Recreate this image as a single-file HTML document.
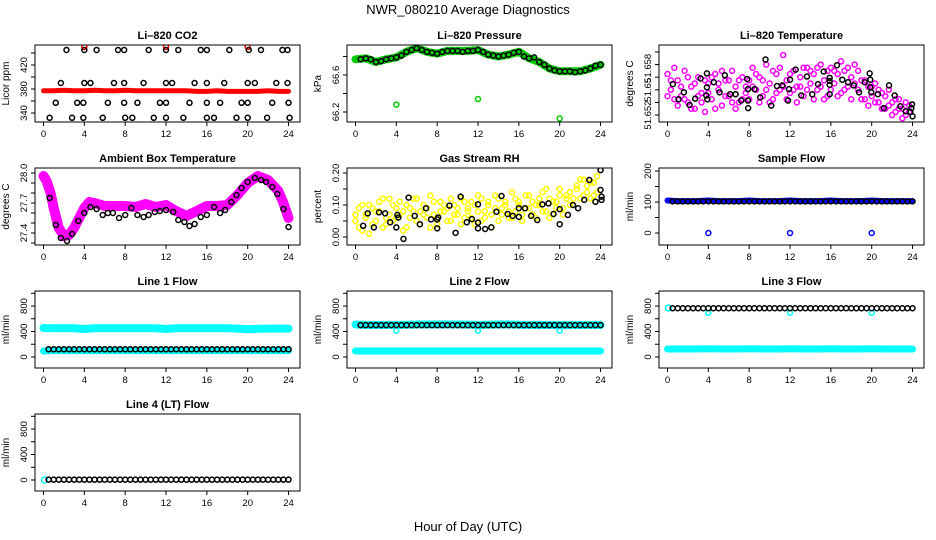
<!DOCTYPE html>
<html><head><meta charset="utf-8"><title>NWR_080210 Average Diagnostics</title>
<style>
html,body{margin:0;padding:0;background:#fff;}
svg{display:block;font-family:"Liberation Sans",Arial,sans-serif;}
.ttl{font-size:11px;font-weight:bold;text-anchor:middle;}
.tk{font-size:9.5px;text-anchor:middle;}
</style></head>
<body>
<svg id="chart" width="936" height="540" viewBox="0 0 936 540" xmlns="http://www.w3.org/2000/svg">
<rect width="936" height="540" fill="#fff"/>
<text x="468" y="14" font-size="13" text-anchor="middle">NWR_080210  Average Diagnostics</text>
<text x="468" y="531" font-size="13" text-anchor="middle">Hour of Day (UTC)</text>
</svg>
<script>
// ---------- shared categories ----------
const halfHours = [0.5,1,1.5,2,2.5,3,3.5,4,4.5,5,5.5,6,6.5,7,7.5,8,8.5,9,9.5,10,10.5,11,11.5,12,12.5,13,13.5,14,14.5,15,15.5,16,16.5,17,17.5,18,18.5,19,19.5,20,20.5,21,21.5,22,22.5,23,23.5,24];
const wholeHours = [0,1,2,3,4,5,6,7,8,9,10,11,12,13,14,15,16,17,18,19,20,21,22,23,24];
const grid72 = [0,0.33,0.67,1,1.33,1.67,2,2.33,2.67,3,3.33,3.67,4,4.33,4.67,5,5.33,5.67,6,6.33,6.67,7,7.33,7.67,8,8.33,8.67,9,9.33,9.67,10,10.33,10.67,11,11.33,11.67,12,12.33,12.67,13,13.33,13.67,14,14.33,14.67,15,15.33,15.67,16,16.33,16.67,17,17.33,17.67,18,18.33,18.67,19,19.33,19.67,20,20.33,20.67,21,21.33,21.67,22,22.33,22.67,23,23.33,23.67];
const xTicks = [0,4,8,12,16,20,24];
const dipHours = [4,12,20];

// ---------- Li-820 CO2 ----------
const co2BlackX = [2.25,4,5.2,7.3,7.9,10.3,12,13.2,15.4,16,18.2,20.1,21.3,23.4,23.9, 1.7,4,4.6,6.9,7.9,9.8,12,12.6,14.8,16,17.7,20,20.7,22.8,23.9, 1.2,3.3,3.9,6.3,7.9,9.2,11.4,12,14.3,16,17.3,19.4,20,22.4,24, 0.6,2.8,3.9,5.8,8,8.7,10.8,12,13.7,16,16.7,18.9,20,21.9,24.1];
const co2BlackY = [445,445,445,445,445,445,445,445,445,445,445,445,445,445,445, 390,390,390,390,390,390,390,390,390,390,390,390,390,390,390, 357,357,357,357,357,357,357,357,357,357,357,357,357,357,357, 332,332,332,332,332,332,332,332,332,332,332,332,332,332,332];
const co2RedBand = [377,377,378,377,377,378,377,377,378,377,377,377,377,377,377,376,376,377,376,376,376,376,377,376,376];
const co2RedDips = [450,450,450];
const co2Ticks = [340,360,380,400,420,440];
const co2TickLabels = ["340","","380","","420",""];

// ---------- Li-820 Pressure ----------
const presBlack = [66.77,66.78,66.77,66.74,66.75,66.77,66.78,66.79,66.81,66.85,66.87,66.89,66.87,66.85,66.84,66.83,66.85,66.86,66.86,66.86,66.85,66.86,66.86,66.87,66.85,66.82,66.81,66.80,66.81,66.82,66.84,66.85,66.80,66.78,66.79,66.74,66.71,66.67,66.65,66.64,66.64,66.64,66.63,66.64,66.65,66.67,66.70,66.71];
const presGreen = [66.77,66.78,66.74,66.77,66.79,66.85,66.89,66.85,66.83,66.86,66.86,66.86,66.87,66.82,66.80,66.82,66.85,66.78,66.74,66.67,66.64,66.64,66.64,66.67,66.71];
const presDips = [66.28,66.34,66.13];
const presTicks = [66.2,66.4,66.6,66.8];
const presTickLabels = ["66.2","","66.6",""];

// ---------- Li-820 Temperature ----------
const tempMagA = [51.6585,51.6560,51.6545,51.6575,51.6550,51.6590,51.6540,51.6565,51.6530,51.6580,51.6555,51.6525,51.6570,51.6545,51.6585,51.6560,51.6535,51.6575,51.6550,51.6590,51.6565,51.6540,51.6580,51.6555,51.6575,51.6595,51.6560,51.6580,51.6550,51.6600,51.6570,51.6545,51.6585,51.6560,51.6615,51.6575,51.6555,51.6590,51.6565,51.6580,51.6550,51.6595,51.6570,51.6585,51.6560,51.6600,51.6575,51.6550,51.6595,51.6570,51.6585,51.6555,51.6590,51.6565,51.6580,51.6600,51.6560,51.6575,51.6545,51.6565,51.6550,51.6570,51.6540,51.6555,51.6530,51.6560,51.6540,51.6525,51.6545,51.6530,51.6520,51.6535];
const tempMagB = [51.6550,51.6575,51.6595,51.6535,51.6565,51.6545,51.6580,51.6530,51.6570,51.6550,51.6540,51.6575,51.6555,51.6580,51.6530,51.6570,51.6590,51.6550,51.6575,51.6540,51.6530,51.6575,51.6545,51.6565,51.6545,51.6565,51.6585,51.6540,51.6575,51.6560,51.6540,51.6590,51.6555,51.6595,51.6565,51.6545,51.6585,51.6560,51.6540,51.6565,51.6595,51.6560,51.6590,51.6545,51.6595,51.6565,51.6545,51.6590,51.6560,51.6590,51.6550,51.6605,51.6560,51.6595,51.6545,51.6570,51.6590,51.6545,51.6575,51.6535,51.6565,51.6540,51.6560,51.6530,51.6550,51.6535,51.6520,51.6545,51.6530,51.6515,51.6540,51.6525];
const tempBlackX = [0.52,1.08,1.6,2.16,2.71,3.24,3.86,3.8,3.86,3.9,4.54,5.1,5.62,6.14,6.67,7.22,7.81,7.88,7.88,7.9,8.53,9.08,9.6,10.16,10.72,11.24,11.8,11.9,12.0,12.55,13.1,13.66,14.18,14.74,15.3,15.88,15.88,15.88,15.88,16.6,17.12,17.68,18.24,18.76,19.31,19.8,19.86,19.86,19.96,20.6,21.18,21.7,22.25,22.81,23.33,23.79,23.88,23.95,24.0];
const tempBlackY = [51.6569,51.6545,51.6556,51.6536,51.6546,51.6578,51.6586,51.6551,51.6564,51.6545,51.6572,51.6556,51.6583,51.6553,51.6553,51.6543,51.6577,51.6561,51.6543,51.6531,51.6561,51.6548,51.6608,51.6535,51.6566,51.6567,51.6543,51.6561,51.6576,51.6592,51.6551,51.6581,51.6553,51.6569,51.6589,51.6568,51.6574,51.6579,51.6553,51.6599,51.6576,51.6572,51.6567,51.6556,51.6572,51.6586,51.6576,51.6564,51.6556,51.6553,51.6531,51.6567,51.6551,51.6534,51.6526,51.6525,51.6531,51.6537,51.6518];
const tempTicks = [51.652,51.654,51.656,51.658,51.660,51.662];
const tempNoLabels = ["","","","","",""];
const tempLabelVals = [51.652,51.656,51.6594];
const tempLabelText = ["51.652","51.65","51.658"];

// ---------- Ambient Box Temperature ----------
const ambBlackX = [0.6,1.2,1.7,2.3,2.8,3.4,4.0,4.6,5.2,5.8,6.3,6.8,7.4,8.0,8.6,9.2,9.8,10.3,10.9,11.4,12,12.7,13.2,13.8,14.3,14.8,15.4,16,16.7,17.3,17.8,18.4,18.9,19.4,20,20.7,21.3,21.8,22.4,22.9,23.5,24];
const ambBlackY = [27.75,27.48,27.35,27.32,27.39,27.52,27.60,27.66,27.64,27.58,27.60,27.60,27.55,27.58,27.65,27.58,27.56,27.58,27.61,27.62,27.63,27.61,27.53,27.51,27.47,27.49,27.56,27.58,27.66,27.60,27.63,27.71,27.78,27.85,27.91,27.95,27.93,27.91,27.86,27.79,27.64,27.46];
const ambMagX = [0,0.3,0.7,1,1.5,2,2.5,3,3.5,4,4.5,5,6,7,8,9,10,11,12,13,14,15,16,17,18,19,20,21,22,23,23.5,24];
const ambMagY = [27.97,27.92,27.80,27.65,27.45,27.37,27.38,27.45,27.55,27.65,27.71,27.70,27.67,27.67,27.67,27.66,27.69,27.66,27.68,27.62,27.57,27.62,27.67,27.67,27.68,27.78,27.90,27.97,27.93,27.82,27.70,27.55];
const ambTicks = [27.3,27.4,27.5,27.6,27.7,27.8,27.9,28.0];
const ambTickLabels = ["","27.4","","","27.7","","","28.0"];

// ---------- Gas Stream RH ----------
const rhYellowA = [0.05,0.09,0.02,0.07,0.10,0.04,0.08,0.11,0.03,0.06,0.12,0.05,0.09,0.07,0.02,0.10,0.06,0.08,0.12,0.04,0.07,0.09,0.03,0.11,0.06,0.08,0.10,0.05,0.12,0.07,0.09,0.04,0.11,0.08,0.06,0.10,0.13,0.05,0.08,0.11,0.03,0.09,0.12,0.07,0.10,0.06,0.14,0.08,0.11,0.05,0.09,0.13,0.07,0.10,0.12,0.08,0.15,0.06,0.11,0.09,0.13,0.07,0.12,0.14,0.10,0.16,0.12,0.18,0.14,0.17,0.13,0.19];
const rhYellowB = [0.07,0.03,0.10,0.06,0.01,0.09,0.05,0.08,0.12,0.04,0.07,0.10,0.06,0.11,0.08,0.03,0.09,0.12,0.05,0.08,0.10,0.06,0.13,0.07,0.04,0.11,0.08,0.09,0.05,0.10,0.07,0.12,0.06,0.09,0.11,0.04,0.08,0.12,0.06,0.10,0.07,0.13,0.05,0.09,0.11,0.08,0.06,0.12,0.10,0.07,0.13,0.09,0.11,0.06,0.10,0.14,0.08,0.12,0.07,0.11,0.15,0.09,0.13,0.10,0.12,0.15,0.18,0.13,0.16,0.12,0.17,0.14];
const rhBlackX = [0.75,1.2,1.8,2.3,2.9,3.4,4.0,4.1,4.2,4.7,5.2,5.8,6.3,6.9,7.4,8.0,8.0,8.1,9.2,9.8,10.3,10.9,11.4,12.0,12.0,12.0,12.7,13.3,13.8,14.3,14.9,15.4,16.0,16.0,16.6,17.2,17.8,18.3,18.9,19.4,20.0,20.0,20.8,21.3,21.8,22.4,22.9,23.5,24.0,24.0,24.1,24.1];
const rhBlackY = [0.035,0.074,0.030,0.077,0.074,0.046,0.030,0.069,0.061,-0.006,0.123,0.066,0.040,0.090,0.055,0.055,0.027,0.061,0.098,0.013,0.126,0.046,0.056,0.102,0.045,0.027,0.025,0.030,0.079,0.128,0.072,0.066,0.063,0.090,0.090,0.066,0.053,0.102,0.105,0.072,0.040,0.087,0.069,0.100,0.090,0.116,0.178,0.110,0.209,0.147,0.126,0.116];
const rhTicks = [0,0.05,0.10,0.15,0.20];
const rhTickLabels = ["0.00","","0.10","","0.20"];

// ---------- Sample Flow ----------
const sampleBlack = [102,102,102,102,102,102,102,102,102,102,102,102,102,102,102,102,102,102,102,102,102,102,102,102,102,102,102,102,102,102,102,102,102,102,102,102,102,102,102,102,102,102,102,102,102,102,102,102];
const sampleBlue = [105,103,103,103,105,103,103,103,105,103,103,103,105,103,103,103,105,103,103,103,105,103,103,103,103];
const sampleDips = [0,0,0];
const sampleTicks = [0,50,100,150,200];
const sampleTickLabels = ["0","","100","","200"];

// ---------- Line flows ----------
const flowTicks = [0,200,400,600,800,1000];
const flowTickLabels = ["0","","400","","800",""];
const line1CyanHigh = [455,452,452,452,440,452,452,452,452,452,452,452,440,452,452,452,452,452,450,445,435,442,445,445,445];
const line1CyanLow = [94,100,100,100,100,100,100,100,100,100,100,100,100,100,100,100,100,100,100,100,100,100,100,100,100];
const line1Black = [121,121,121,121,121,121,121,121,121,121,121,121,121,121,121,121,121,121,121,121,121,121,121,121,121,121,121,121,121,121,121,121,121,121,121,121,121,121,121,121,121,121,121,121,121,121,121,121];
const line2CyanHigh = [510,502,502,502,502,505,510,510,510,510,510,508,502,505,510,510,505,502,502,502,500,500,502,502,502];
const line2CyanLow = [94,94,94,94,94,94,94,94,94,94,94,94,94,94,94,94,94,94,94,94,94,94,94,94,94];
const line2Black = [500,500,500,500,500,500,500,500,500,500,500,500,500,500,500,500,500,500,500,500,500,500,500,500,500,500,500,500,500,500,500,500,500,500,500,500,500,500,500,500,500,500,500,500,500,500,500,500];
const line2Dips = [413,413,413];
const line3CyanLow = [126,126,126,126,130,126,126,126,130,126,126,126,130,126,126,126,130,126,126,126,130,126,126,126,126];
const line3Black = [765,765,765,765,765,765,765,765,765,765,765,765,765,765,765,765,765,765,765,765,765,765,765,765,765,765,765,765,765,765,765,765,765,765,765,765,765,765,765,765,765,765,765,765,765,765,765,765];
const line3Dips = [695,695,695];
const line3CyanStart = [770];
const line4Black = [5,5,5,5,5,5,5,5,5,5,5,5,5,5,5,5,5,5,5,5,5,5,5,5,5,5,5,5,5,5,5,5,5,5,5,5,5,5,5,5,5,5,5,5,5,5,5,5];
const line4CyanStart = [0];

// ---------- drawing ----------
const NS = "http://www.w3.org/2000/svg";
const svg = document.getElementById("chart");
function mk(tag, parent, attrs) {
  const e = document.createElementNS(NS, tag);
  for (const k in attrs) e.setAttribute(k, attrs[k]);
  parent.appendChild(e);
  return e;
}
function panel(name, col, row, title, ylab, ymin, ymax, ticks, tickLabels) {
  const left = 35 + 312 * col, top = 45 + 123 * row, w = 265, h = 77;
  const g = mk("g", svg, {});
  
  
  const sx = v => left + 8.5 + v * 10.21;
  const sy = v => top + h - (v - ymin) / (ymax - ymin) * h;
  const t = mk("text", g, {x: left + w / 2, y: top - 6, class: "ttl"});
  t.textContent = title;
  
  
  const yl = mk("text", g, {x: 0, y: 0, "font-size": 10, "text-anchor": "middle", transform: "translate(" + (left - 26) + "," + (top + h / 2) + ") rotate(-90)"});
  yl.textContent = ylab;
  
  
  const xa = mk("g", g, {});
  
  
  xTicks.forEach(v => {
    mk("line", xa, {x1: sx(v), x2: sx(v), y1: top + h, y2: top + h + 4, stroke: "#000", "stroke-width": 1});
    const tl = mk("text", xa, {x: sx(v), y: top + h + 15, class: "tk"});
    tl.textContent = String(v);
  });
  const ya = mk("g", g, {});
  
  
  ticks.forEach((v, i) => {
    mk("line", ya, {x1: left - 4, x2: left, y1: sy(v), y2: sy(v), stroke: "#000", "stroke-width": 1});
    if (tickLabels[i]) {
      const tl = mk("text", ya, {x: 0, y: 0, class: "tk", transform: "translate(" + (left - 8) + "," + sy(v) + ") rotate(-90)"});
      tl.textContent = tickLabels[i];
    }
  });
  const clipId = "clip-" + name;
  const cp = mk("clipPath", g, {id: clipId});
  mk("rect", cp, {x: left, y: top, width: w, height: h});
  const plot = mk("g", g, {"clip-path": "url(#" + clipId + ")"});
  
  
  const box = mk("rect", g, {x: left, y: top, width: w, height: h, fill: "none", stroke: "#000", "stroke-width": 1});
  
  
  return {g: plot, ya, sx, sy, left};
}
function pts(p, xs, ys, color, sname, r) {
  const gg = mk("g", p.g, {fill: "none", stroke: color, "stroke-width": 1.5});
  
  
  xs.forEach((x, i) => {
    const c = mk("circle", gg, {cx: p.sx(x), cy: p.sy(ys[i]), r: r || 2.5});
    
    
  });
}
function band(p, xs, ys, color, sname, width) {
  const d = xs.map((x, i) => (i ? "L" : "M") + p.sx(x).toFixed(1) + " " + p.sy(ys[i]).toFixed(1)).join(" ");
  const path = mk("path", p.g, {d: d, fill: "none", stroke: color, "stroke-width": width, "stroke-linejoin": "round", "stroke-linecap": "round"});
  
  
}

// CO2
let p = panel("co2", 0, 0, "Li\u2013820 CO2", "Licor ppm", 325, 453.3, co2Ticks, co2TickLabels);
band(p, wholeHours, co2RedBand, "#ff0000", "co2-red-series", 5);
pts(p, dipHours, co2RedDips, "#ff0000", "co2-red-outliers");
pts(p, co2BlackX, co2BlackY, "#000", "co2-black-series");

// Pressure
p = panel("pressure", 1, 0, "Li\u2013820 Pressure", "kPa", 66.092, 66.924, presTicks, presTickLabels);
band(p, wholeHours, presGreen, "#00cc00", "pressure-green-series", 8);
pts(p, dipHours, presDips, "#00cc00", "pressure-green-outliers");
pts(p, halfHours, presBlack, "#000", "pressure-black-series");

// Li-820 Temperature
p = panel("li820-temp", 2, 0, "Li\u2013820 Temperature", "degrees C", 51.6509, 51.6631, tempTicks, tempNoLabels);
tempLabelVals.forEach((v, i) => {
  const tl = mk("text", p.ya, {x: 0, y: 0, class: "tk", transform: "translate(" + (p.left - 8) + "," + p.sy(v) + ") rotate(-90)"});
  tl.textContent = tempLabelText[i];
  
  
});
pts(p, grid72, tempMagA, "#ff00ff", "temp-magenta-series-a");
pts(p, grid72, tempMagB, "#ff00ff", "temp-magenta-series-b");
pts(p, tempBlackX, tempBlackY, "#000", "temp-black-series");

// Ambient
p = panel("ambient", 0, 1, "Ambient Box Temperature", "degrees C", 27.28, 28.05, ambTicks, ambTickLabels);
band(p, ambMagX, ambMagY, "#ff00ff", "ambient-magenta-series", 10);
pts(p, ambBlackX, ambBlackY, "#000", "ambient-black-series");

// RH
p = panel("rh", 1, 1, "Gas Stream RH", "percent", -0.025, 0.2156, rhTicks, rhTickLabels);
pts(p, grid72, rhYellowA, "#ffff00", "rh-yellow-series-a");
pts(p, grid72, rhYellowB, "#ffff00", "rh-yellow-series-b");
pts(p, rhBlackX, rhBlackY, "#000", "rh-black-series");

// Sample flow
p = panel("sample-flow", 2, 1, "Sample Flow", "ml/min", -38.7, 209.7, sampleTicks, sampleTickLabels);
band(p, wholeHours, sampleBlue, "#0000ff", "sample-blue-series", 6);
pts(p, dipHours, sampleDips, "#0000ff", "sample-blue-outliers");
pts(p, halfHours, sampleBlack, "#000", "sample-black-series");

// Line 1
p = panel("line1", 0, 2, "Line 1 Flow", "ml/min", -173, 1036, flowTicks, flowTickLabels);
band(p, wholeHours, line1CyanHigh, "#00ffff", "line1-cyan-high", 8);
band(p, wholeHours, line1CyanLow, "#00ffff", "line1-cyan-low", 7);
pts(p, halfHours, line1Black, "#000", "line1-black-series");

// Line 2
p = panel("line2", 1, 2, "Line 2 Flow", "ml/min", -173, 1036, flowTicks, flowTickLabels);
band(p, wholeHours, line2CyanHigh, "#00ffff", "line2-cyan-high", 8);
band(p, wholeHours, line2CyanLow, "#00ffff", "line2-cyan-low", 7);
pts(p, dipHours, line2Dips, "#00ffff", "line2-cyan-dips");
pts(p, halfHours, line2Black, "#000", "line2-black-series");

// Line 3
p = panel("line3", 2, 2, "Line 3 Flow", "ml/min", -173, 1036, flowTicks, flowTickLabels);
band(p, wholeHours, line3CyanLow, "#00ffff", "line3-cyan-low", 7);
pts(p, [0.1], line3CyanStart, "#00ffff", "line3-cyan-start", 3);
pts(p, dipHours, line3Dips, "#00ffff", "line3-cyan-dips");
pts(p, halfHours, line3Black, "#000", "line3-black-series");

// Line 4
p = panel("line4", 0, 3, "Line 4 (LT) Flow", "ml/min", -173, 1036, flowTicks, flowTickLabels);
pts(p, [0.1], line4CyanStart, "#00ffff", "line4-cyan-start", 3);
pts(p, halfHours, line4Black, "#000", "line4-black-series");
</script>
</body></html>
